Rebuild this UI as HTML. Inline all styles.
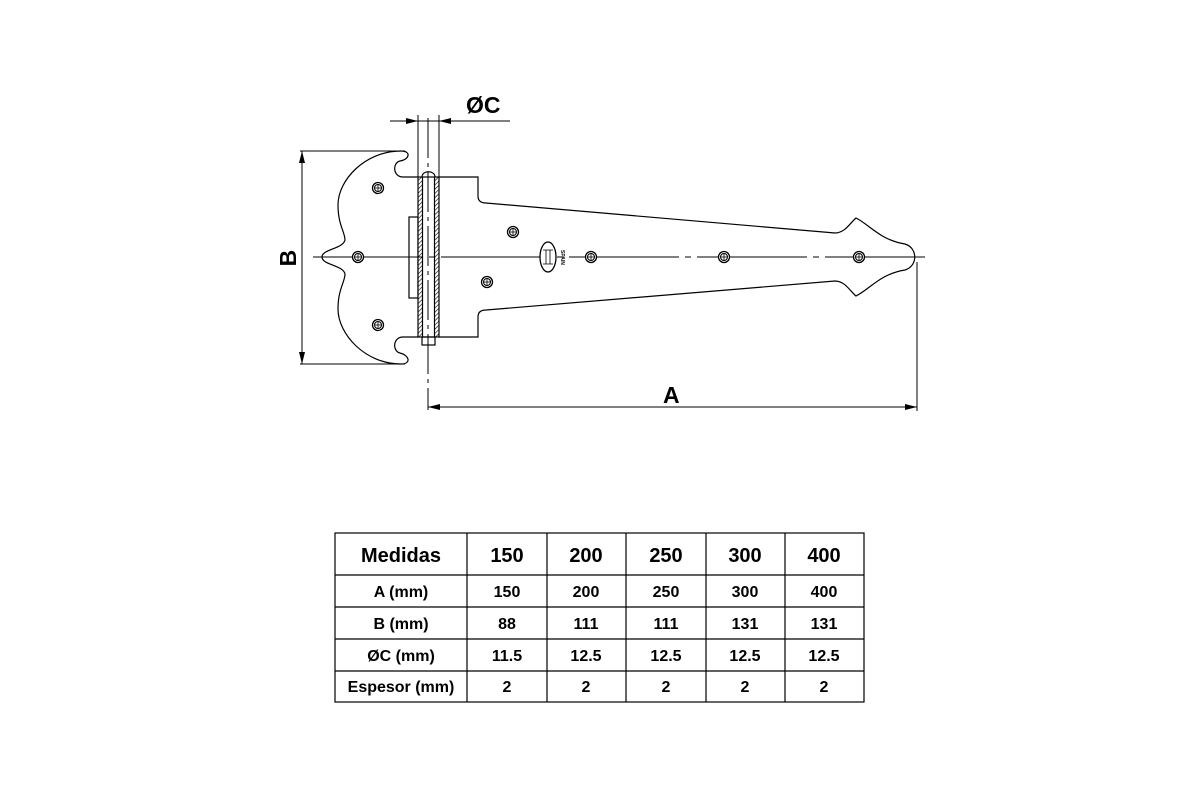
<!DOCTYPE html>
<html><head><meta charset="utf-8"><style>html,body{margin:0;padding:0;background:#fff}svg{display:block}</style></head>
<body>
<svg width="1200" height="800" viewBox="0 0 1200 800" xmlns="http://www.w3.org/2000/svg" font-family="Liberation Sans, Arial, sans-serif">
<defs>
<pattern id="h" width="3" height="3" patternUnits="userSpaceOnUse" patternTransform="rotate(45)"><line x1="0" y1="0" x2="0" y2="3" stroke="#000" stroke-width="1.2"/></pattern>
<g id="hole"><circle r="5.5" fill="#fff" stroke="#000" stroke-width="1.3"/><circle r="3.5" fill="none" stroke="#000" stroke-width="1"/><line x1="-3.5" y1="0" x2="3.5" y2="0" stroke="#000" stroke-width="0.8"/><line x1="0" y1="-3.5" x2="0" y2="3.5" stroke="#000" stroke-width="0.8"/></g>
</defs>
<g fill="none" stroke="#000" stroke-width="1.2">
<!-- left leaf -->
<path d="M418 177 L403 177 C393 177 392 163 400 161 C409 160 412 151 401 151 C365 151 338 180 338 205 C338 225 345 232 345 240 C343 249 322 249 322 257 C322 265 343 265 345 274 C345 282 338 289 338 309 C338 334 365 364 401 364 C412 364 409 355 400 353 C392 351 393 337 403 337 L418 337"/>
<!-- right leaf -->
<path d="M439 177 L478 177 L478 196 C478 201 481 203 486 203 L835 233 C845 233 850 223 856 218 C870 225 880 240 905 244 C918 248 918 266 905 270 C880 274 870 289 856 296 C850 291 845 281 835 281 L486 310 C481 310 478 312 478 317 L478 337 L439 337"/>
<!-- center block -->
<rect x="409" y="217" width="9" height="81"/>
<!-- pin -->
<rect x="418" y="177" width="21" height="160" fill="#fff"/>
<rect x="418" y="177" width="4.5" height="160" fill="url(#h)" stroke="none"/>
<rect x="434.5" y="177" width="4.5" height="160" fill="url(#h)" stroke="none"/>
<line x1="422.5" y1="177" x2="422.5" y2="337"/><line x1="434.5" y1="177" x2="434.5" y2="337"/>
<path d="M422 177 C422 170 435 170 435 177"/>
<rect x="422" y="337" width="13" height="8"/>
<line x1="439" y1="217" x2="447" y2="217" stroke-width="0"/>
</g>
<!-- center lines -->
<g stroke="#000" stroke-width="1" fill="none">
<line x1="428" y1="118" x2="428" y2="410" stroke-dasharray="40,5,4,5"/>
<line x1="313" y1="257" x2="925" y2="257" stroke-dasharray="110,6,6,6"/>
</g>
<!-- holes -->
<use href="#hole" x="378" y="188"/><use href="#hole" x="358" y="257"/><use href="#hole" x="378" y="325"/>
<use href="#hole" x="513" y="232"/><use href="#hole" x="487" y="282"/><use href="#hole" x="591" y="257"/>
<use href="#hole" x="724" y="257"/><use href="#hole" x="859" y="257"/>
<!-- logo -->
<ellipse cx="548" cy="257" rx="8" ry="15" fill="#fff" stroke="#000" stroke-width="1.3"/>
<path d="M543 250 h10 M543 264 h10 M546 250 v14 M550 250 v14" stroke="#000" stroke-width="0.8" fill="none"/>
<text x="0" y="0" font-size="5" font-weight="bold" transform="translate(561,250) rotate(90)">SPAIN</text>
<!-- dimensions -->
<g stroke="#000" stroke-width="1" fill="none">
<line x1="300" y1="151" x2="405" y2="151"/><line x1="300" y1="364" x2="405" y2="364"/>
<line x1="302" y1="151" x2="302" y2="364"/>
<line x1="418" y1="115" x2="418" y2="177"/><line x1="439" y1="115" x2="439" y2="177"/>
<line x1="390" y1="121" x2="510" y2="121"/>
<line x1="917" y1="262" x2="917" y2="411"/>
<line x1="428" y1="407" x2="917" y2="407"/>
</g>
<g fill="#000">
<path d="M302 151 l-3 12 h6z"/><path d="M302 364 l-3 -12 h6z"/>
<path d="M418 121 l-12 -3 v6z"/><path d="M439 121 l12 -3 v6z"/>
<path d="M428 407 l12 -3 v6z"/><path d="M917 407 l-12 -3 v6z"/>
</g>
<g font-weight="bold" font-size="23" fill="#000">
<text x="466" y="113">ØC</text>
<text x="663" y="403">A</text>
<text transform="translate(296,258) rotate(-90)" text-anchor="middle">B</text>
</g>
<!-- table -->
<g stroke="#000" stroke-width="1.2" fill="none">
<rect x="335" y="533" width="529" height="169"/>
<line x1="335" y1="575" x2="864" y2="575"/><line x1="335" y1="607" x2="864" y2="607"/>
<line x1="335" y1="639" x2="864" y2="639"/><line x1="335" y1="671" x2="864" y2="671"/>
<line x1="467" y1="533" x2="467" y2="702"/><line x1="547" y1="533" x2="547" y2="702"/>
<line x1="626" y1="533" x2="626" y2="702"/><line x1="706" y1="533" x2="706" y2="702"/>
<line x1="785" y1="533" x2="785" y2="702"/>
</g>
<g font-weight="bold" fill="#000" text-anchor="middle">
<g font-size="20">
<text x="401" y="562">Medidas</text><text x="507" y="562">150</text><text x="586" y="562">200</text><text x="666" y="562">250</text><text x="745" y="562">300</text><text x="824" y="562">400</text>
</g>
<g font-size="16">
<text x="401" y="597">A (mm)</text><text x="507" y="597">150</text><text x="586" y="597">200</text><text x="666" y="597">250</text><text x="745" y="597">300</text><text x="824" y="597">400</text>
<text x="401" y="629">B (mm)</text><text x="507" y="629">88</text><text x="586" y="629">111</text><text x="666" y="629">111</text><text x="745" y="629">131</text><text x="824" y="629">131</text>
<text x="401" y="661">ØC (mm)</text><text x="507" y="661">11.5</text><text x="586" y="661">12.5</text><text x="666" y="661">12.5</text><text x="745" y="661">12.5</text><text x="824" y="661">12.5</text>
<text x="401" y="692">Espesor (mm)</text><text x="507" y="692">2</text><text x="586" y="692">2</text><text x="666" y="692">2</text><text x="745" y="692">2</text><text x="824" y="692">2</text>
</g>
</g>
</svg>
</body></html>
